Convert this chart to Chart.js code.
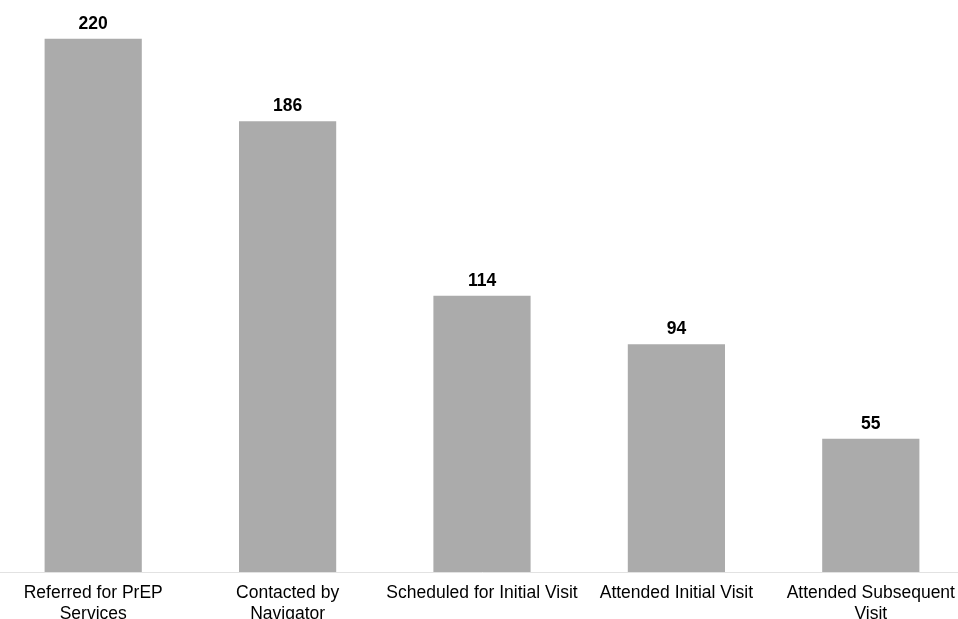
<!DOCTYPE html>
<html>
<head>
<meta charset="utf-8">
<script src="https://cdn.jsdelivr.net/npm/chart.js@4/dist/chart.umd.min.js"></script>
<style>
  html, body { margin: 0; padding: 0; background: #fff; overflow: hidden; }
  #wrap { position: absolute; left: -4px; top: 0; width: 972px; height: 619px; }
</style>
</head>
<body>
<div id="wrap"><canvas id="chart"></canvas></div>
<script>
const categorias = [
  ['Referred for PrEP', 'Services'],
  ['Contacted by', 'Navigator'],
  'Scheduled for Initial Visit',
  'Attended Initial Visit',
  ['Attended Subsequent', 'Visit']
];
const valores = [220, 186, 114, 94, 55];

// desenha o valor acima de cada barra
const valueLabels = {
  id: 'valueLabels',
  afterDatasetsDraw(chart) {
    const ctx = chart.ctx;
    const meta = chart.getDatasetMeta(0);
    ctx.save();
    ctx.font = 'bold 17.5px "Liberation Sans", Arial, sans-serif';
    ctx.fillStyle = '#000';
    ctx.textAlign = 'center';
    ctx.textBaseline = 'alphabetic';
    meta.data.forEach((bar, i) => {
      ctx.fillText(valores[i], bar.x, bar.y - 10);
    });
    ctx.restore();
  }
};

new Chart(document.getElementById('chart'), {
  type: 'bar',
  data: {
    labels: categorias,
    datasets: [{
      data: valores,
      backgroundColor: '#ababab',
      barPercentage: 0.5,
      categoryPercentage: 1.0
    }]
  },
  options: {
    responsive: true,
    maintainAspectRatio: false,
    animation: false,
    layout: { padding: 0 },
    plugins: {
      legend: { display: false },
      tooltip: { enabled: false }
    },
    scales: {
      x: {
        grid: { display: false, drawTicks: false },
        border: { display: true, color: '#e2e2e2', width: 1 },
        ticks: {
          color: '#000',
          font: { family: '"Liberation Sans", Arial, sans-serif', size: 17.5, lineHeight: 1.2 },
          maxRotation: 0,
          autoSkip: false,
          padding: 11
        },
        afterFit: (scale) => { scale.height = 47; }
      },
      y: {
        display: false,
        min: 0,
        max: 236
      }
    }
  },
  plugins: [valueLabels]
});
</script>
</body>
</html>
